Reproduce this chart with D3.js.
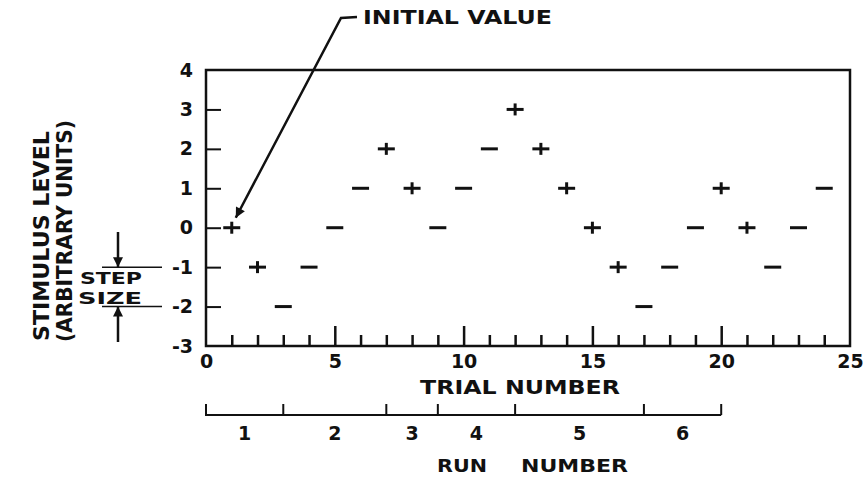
<!DOCTYPE html>
<html>
<head>
<meta charset="utf-8">
<script src="https://d3js.org/d3.v7.min.js"></script>
<style>
body { margin: 0; background: #fff; }
text { font-family: "DejaVu Sans", sans-serif; font-weight: bold; fill: #111; }
</style>
</head>
<body>
<svg id="chart" width="867" height="478"></svg>
<script>
// data
const trials    = [1,2,3,4,5,6,7,8,9,10,11,12,13,14,15,16,17,18,19,20,21,22,23,24];
const levels    = [0,-1,-2,-1,0,1,2,1,0,1,2,3,2,1,0,-1,-2,-1,0,1,0,-1,0,1];
const responses = ["+","+","-","-","-","-","+","+","-","-","-","+","+","+","+","+","-","-","-","+","+","-","-","-"];
const runBounds = [0,3,7,9,12,17,20];
const runLabels = ["1","2","3","4","5","6"];
const xTickLabels = [0,5,10,15,20,25];
const yTickLabels = [-3,-2,-1,0,1,2,3,4];

const svg = d3.select("#chart");
svg.append("rect").attr("width", 867).attr("height", 478).attr("fill", "#fff");

const x = d3.scaleLinear([0, 25], [206, 850]);
const y = d3.scaleLinear([-3, 4], [346, 70]);

const defs = svg.append("defs");
defs.append("marker").attr("id", "arrow")
    .attr("viewBox", "0 0 10 10").attr("refX", 10).attr("refY", 5)
    .attr("markerUnits", "userSpaceOnUse")
    .attr("markerWidth", 14).attr("markerHeight", 10)
    .attr("orient", "auto")
  .append("path").attr("d", "M0,0L10,5L0,10Z").attr("fill", "#111");

// frame
svg.append("rect")
    .attr("x", x(0)).attr("y", y(4))
    .attr("width", x(25) - x(0)).attr("height", y(-3) - y(4))
    .attr("fill", "none").attr("stroke", "#111").attr("stroke-width", 2.5);

// inward ticks on bottom
var minor = d3.range(1, 25).filter(d => d % 5 != 0);
var major = [5, 10, 15, 20];
svg.append("g").attr("transform", "translate(0," + y(-3) + ")")
    .call(d3.axisTop(x).tickValues(minor).tickSize(11).tickFormat(""))
    .call(g => g.select(".domain").remove())
    .selectAll("line").attr("stroke", "#111").attr("stroke-width", 2.5);
svg.append("g").attr("transform", "translate(0," + y(-3) + ")")
    .call(d3.axisTop(x).tickValues(major).tickSize(20).tickFormat(""))
    .call(g => g.select(".domain").remove())
    .selectAll("line").attr("stroke", "#111").attr("stroke-width", 2.5);

// x labels
svg.append("g").attr("transform", "translate(0," + y(-3) + ")")
    .call(d3.axisBottom(x).tickValues(xTickLabels).tickSize(0).tickPadding(9).tickFormat(d => String(d)))
    .call(g => g.select(".domain").remove())
    .selectAll("text").attr("font-size", 19).attr("font-family", null);

// inward ticks on left
svg.append("g").attr("transform", "translate(" + x(0) + ",0)")
    .call(d3.axisRight(y).tickValues([-2,-1,0,1,2,3]).tickSize(15).tickFormat(""))
    .call(g => g.select(".domain").remove())
    .selectAll("line").attr("stroke", "#111").attr("stroke-width", 2);

// y labels
svg.append("g").attr("transform", "translate(" + x(0) + ",0)")
    .call(d3.axisLeft(y).tickValues(yTickLabels).tickSize(0).tickPadding(13).tickFormat(d => String(d)))
    .call(g => g.select(".domain").remove())
    .selectAll("text").attr("font-size", 19).attr("font-family", null);

// trial marks
var pts = trials.map((t, i) => ({t: t, v: levels[i], r: responses[i]}));
var marks = svg.append("g").attr("stroke", "#111").attr("stroke-width", 3);
marks.selectAll(".h").data(pts).enter().append("line")
    .attr("x1", d => x(d.t) - 8.5).attr("x2", d => x(d.t) + 8.5)
    .attr("y1", d => y(d.v)).attr("y2", d => y(d.v));
marks.selectAll(".v").data(pts.filter(d => d.r == "+")).enter().append("line")
    .attr("x1", d => x(d.t)).attr("x2", d => x(d.t))
    .attr("y1", d => y(d.v) - 6).attr("y2", d => y(d.v) + 6);

// axis titles
svg.append("text").attr("x", 520).attr("y", 394).attr("text-anchor", "middle")
    .attr("font-size", 19).attr("textLength", 200).attr("lengthAdjust", "spacingAndGlyphs")
    .text("TRIAL NUMBER");
svg.append("text").attr("transform", "translate(72,231) rotate(-90)").attr("text-anchor", "middle")
    .attr("font-size", 21).attr("textLength", 222).attr("lengthAdjust", "spacingAndGlyphs")
    .text("(ARBITRARY UNITS)");
svg.append("text").attr("transform", "translate(49,236) rotate(-90)").attr("text-anchor", "middle")
    .attr("font-size", 21).attr("textLength", 210).attr("lengthAdjust", "spacingAndGlyphs")
    .text("STIMULUS LEVEL");

// initial value annotation
svg.append("text").attr("x", 363).attr("y", 24)
    .attr("font-size", 19).attr("textLength", 189).attr("lengthAdjust", "spacingAndGlyphs")
    .text("INITIAL VALUE");
svg.append("path")
    .attr("d", d3.line()([[357, 17], [341, 18], [x(trials[0]) + 4, y(levels[0]) - 10]]))
    .attr("fill", "none").attr("stroke", "#111").attr("stroke-width", 2.5)
    .attr("marker-end", "url(#arrow)");

// step size annotation
svg.append("line").attr("x1", 102).attr("x2", 162).attr("y1", y(-1)).attr("y2", y(-1))
    .attr("stroke", "#111").attr("stroke-width", 1.5);
svg.append("line").attr("x1", 102).attr("x2", 162).attr("y1", y(-2)).attr("y2", y(-2))
    .attr("stroke", "#111").attr("stroke-width", 1.5);
svg.append("line").attr("x1", 118).attr("x2", 118).attr("y1", 232).attr("y2", y(-1))
    .attr("stroke", "#111").attr("stroke-width", 2.5).attr("marker-end", "url(#arrow)");
svg.append("line").attr("x1", 118).attr("x2", 118).attr("y1", 342).attr("y2", y(-2))
    .attr("stroke", "#111").attr("stroke-width", 2.5).attr("marker-end", "url(#arrow)");
svg.append("text").attr("x", 111).attr("y", 284).attr("text-anchor", "middle")
    .attr("font-size", 15).attr("textLength", 62).attr("lengthAdjust", "spacingAndGlyphs").text("STEP");
svg.append("text").attr("x", 110).attr("y", 304).attr("text-anchor", "middle")
    .attr("font-size", 15).attr("textLength", 64).attr("lengthAdjust", "spacingAndGlyphs").text("SIZE");

// run number bracket
var runY = 415;
var run = svg.append("g").attr("stroke", "#111").attr("stroke-width", 2);
run.append("line").attr("x1", x(runBounds[0]) - 1).attr("x2", x(runBounds[runBounds.length - 1]))
    .attr("y1", runY).attr("y2", runY);
run.selectAll(".t").data(runBounds).enter().append("line")
    .attr("x1", d => x(d)).attr("x2", d => x(d))
    .attr("y1", runY).attr("y2", runY - 11);
svg.selectAll(".runlab").data(runLabels).enter().append("text")
    .attr("x", (d, i) => x((runBounds[i] + runBounds[i + 1]) / 2))
    .attr("y", 440).attr("text-anchor", "middle").attr("font-size", 19)
    .text(d => d);
svg.append("text").attr("x", 437).attr("y", 472).attr("font-size", 18)
    .attr("textLength", 50).attr("lengthAdjust", "spacingAndGlyphs").text("RUN");
svg.append("text").attr("x", 521).attr("y", 472).attr("font-size", 18)
    .attr("textLength", 107).attr("lengthAdjust", "spacingAndGlyphs").text("NUMBER");
</script>
</body>
</html>
